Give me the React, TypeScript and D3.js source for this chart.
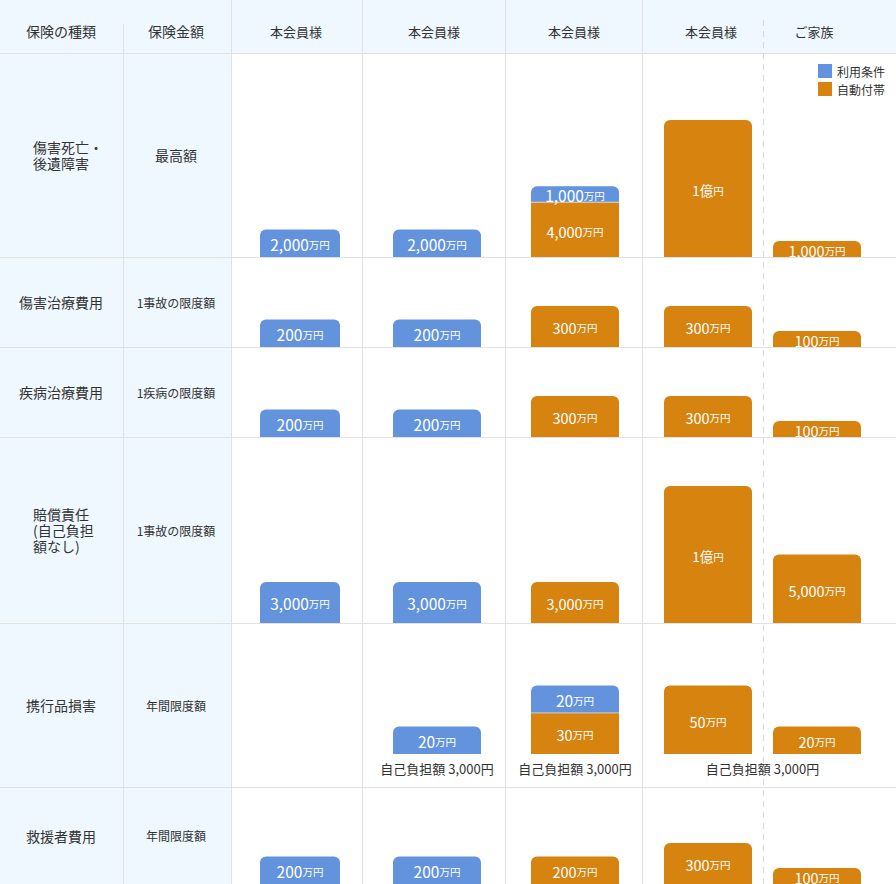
import React from "react";
import * as d3 from "d3";

// ---- data ----
const headerLeft = ["保険の種類", "保険金額"];
const columnHeaders = ["本会員様", "本会員様", "本会員様", "本会員様", "ご家族"];
const legendLabels = ["利用条件", "自動付帯"];
const rowTypes = [
  ["傷害死亡・", "後遺障害"],
  ["傷害治療費用"],
  ["疾病治療費用"],
  ["賠償責任", "(自己負担", "額なし)"],
  ["携行品損害"],
  ["救援者費用"],
];
const rowAmountLabels = ["最高額", "1事故の限度額", "1疾病の限度額", "1事故の限度額", "年間限度額", "年間限度額"];
// values in 万円, per row, per column: [利用条件, 自動付帯]
const blueValues = [
  [2000, 2000, 1000, 0, 0],
  [200, 200, 0, 0, 0],
  [200, 200, 0, 0, 0],
  [3000, 3000, 0, 0, 0],
  [0, 20, 20, 0, 0],
  [200, 200, 0, 0, 0],
];
const orangeValues = [
  [0, 0, 4000, 10000, 1000],
  [0, 0, 300, 300, 100],
  [0, 0, 300, 300, 100],
  [0, 0, 3000, 10000, 5000],
  [0, 0, 30, 50, 20],
  [0, 0, 200, 300, 100],
];
const rowDomainMax = [10000, 1000, 1000, 10000, 100, 1000];
const deductibleText = "自己負担額 3,000円";
const deductibleGroups = [[1], [2], [3, 4]];

// ---- layout ----
const W = 896, H = 884;
const headerH = 53;
const rowBounds = [53, 257, 347, 437, 623, 787, 884];
const colCenters = [300, 437, 575, 708, 817];
const colWidths = [80, 88, 88, 88, 88];
const vLines = [231, 362, 505, 642];
const headerCenters = [296, 434, 574, 711, 814];
const BLUE = "#6293dc";
const ORANGE = "#d6830f";
const GRID = "#e1e1e1";
const BG = "#eff8fe";
const TEXT = "#333";
const FONT = "'Noto Sans CJK JP', 'Noto Sans', sans-serif";
const MIN_H = 16;

function fmt(v: number): [string, string] {
  if (v >= 10000) return [`${v / 10000}億`, "円"];
  return [d3.format(",")(v), "万円"];
}

function roundedTop(x: number, y: number, w: number, h: number, r: number) {
  const p = d3.path();
  p.moveTo(x, y + h);
  p.lineTo(x, y + r);
  p.arcTo(x, y, x + r, y, r);
  p.lineTo(x + w - r, y);
  p.arcTo(x + w, y, x + w, y + r, r);
  p.lineTo(x + w, y + h);
  p.closePath();
  return p.toString();
}

export default function App() {
  const colIdx = d3.range(columnHeaders.length);
  const xCenter = d3.scaleOrdinal<number, number>().domain(colIdx).range(colCenters);
  const bars: React.ReactNode[] = [];

  rowTypes.forEach((_, ri) => {
    const bottom = rowBounds[ri + 1];
    const baseline = ri === 4 ? bottom - 33 : bottom;
    const y = d3.scaleLinear().domain([0, rowDomainMax[ri]]).range([0, 137]);
    const hOf = (v: number) => Math.max(MIN_H, y(v));
    colIdx.forEach((ci) => {
      const bw = colWidths[ci];
      const x0 = xCenter(ci) - bw / 2;
      const segs: { v: number; c: string }[] = [];
      if (orangeValues[ri][ci] > 0) segs.push({ v: orangeValues[ri][ci], c: ORANGE });
      if (blueValues[ri][ci] > 0) segs.push({ v: blueValues[ri][ci], c: BLUE });
      let cur = baseline;
      segs.forEach((s, si) => {
        const h = hOf(s.v);
        const top = cur - h;
        const isTop = si === segs.length - 1;
        const [num, unit] = fmt(s.v);
        const isBlue = s.c === BLUE;
        const big = s.v >= 10000 ? 13.5 : isBlue ? 15.5 : 14.5;
        bars.push(
          <g key={`b${ri}-${ci}-${si}`}>
            {isTop ? (
              <path d={roundedTop(x0, top, bw, h, 6)} fill={s.c} />
            ) : (
              <rect x={x0} y={top} width={bw} height={h} fill={s.c} />
            )}
            {si > 0 && <line x1={x0} x2={x0 + bw} y1={cur} y2={cur} stroke="#fff" strokeOpacity={0.6} strokeWidth={1} />}
            <text
              x={x0 + bw / 2}
              y={top + h / 2 + 1}
              textAnchor="middle"
              dominantBaseline="central"
              fill="#fff"
              fontFamily={FONT}
            >
              <tspan fontSize={big}>{num}</tspan>
              <tspan fontSize={10.5}>{unit}</tspan>
            </text>
          </g>
        );
        cur = top;
      });
    });
  });

  return (
    <svg width={W} height={H} style={{ position: "absolute", left: 0, top: 0 }} fontFamily={FONT}>
      <rect x={0} y={0} width={W} height={H} fill="#fff" />
      <rect x={0} y={0} width={W} height={headerH} fill={BG} />
      <rect x={0} y={headerH} width={231} height={H - headerH} fill={BG} />

      {/* grid */}
      {rowBounds.slice(0, -1).map((yy) => (
        <line key={`h${yy}`} x1={0} x2={W} y1={yy + 0.5} y2={yy + 0.5} stroke={GRID} />
      ))}
      <line x1={123.5} x2={123.5} y1={24} y2={H} stroke={GRID} />
      {vLines.map((xx) => (
        <line key={`v${xx}`} x1={xx + 0.5} x2={xx + 0.5} y1={0} y2={H} stroke={GRID} />
      ))}
      <line x1={763.5} x2={763.5} y1={20} y2={H} stroke="#d8d8d8" strokeDasharray="6 5" />

      {/* header */}
      {headerLeft.map((t, i) => (
        <text key={t} x={i === 0 ? 61 : 176} y={31} textAnchor="middle" dominantBaseline="central" fontSize={14} fill={TEXT}>
          {t}
        </text>
      ))}
      {columnHeaders.map((t, i) => (
        <text key={`ch${i}`} x={headerCenters[i]} y={31} textAnchor="middle" dominantBaseline="central" fontSize={13} fill={TEXT}>
          {t}
        </text>
      ))}

      {/* legend */}
      {legendLabels.map((t, i) => (
        <g key={t}>
          <rect x={818} y={64 + i * 18} width={14} height={14} fill={i === 0 ? BLUE : ORANGE} />
          <text x={837} y={71 + i * 18} dominantBaseline="central" fontSize={12} fill={TEXT}>
            {t}
          </text>
        </g>
      ))}

      {/* row labels */}
      {rowTypes.map((lines, ri) => {
        const top = rowBounds[ri];
        const bottom = rowBounds[ri + 1];
        const mid = (top + bottom) / 2;
        const n = lines.length;
        return (
          <g key={`r${ri}`}>
            {lines.map((l, li) => (
              <text
                key={li}
                x={n > 1 ? 33 : 61}
                y={mid + (li - (n - 1) / 2) * 16}
                textAnchor={n > 1 ? "start" : "middle"}
                dominantBaseline="central"
                fontSize={14}
                fill={TEXT}
              >
                {l}
              </text>
            ))}
            <text
              x={176}
              y={mid}
              textAnchor="middle"
              dominantBaseline="central"
              fontSize={ri === 0 ? 14 : 12}
              fill={TEXT}
            >
              {rowAmountLabels[ri]}
            </text>
          </g>
        );
      })}

      {bars}

      {/* deductible notes */}
      {deductibleGroups.map((g, i) => (
        <text
          key={`d${i}`}
          x={d3.mean(g.map((c) => xCenter(c)))!}
          y={768}
          textAnchor="middle"
          dominantBaseline="central"
          fontSize={13}
          fill={TEXT}
        >
          {deductibleText}
        </text>
      ))}
    </svg>
  );
}
